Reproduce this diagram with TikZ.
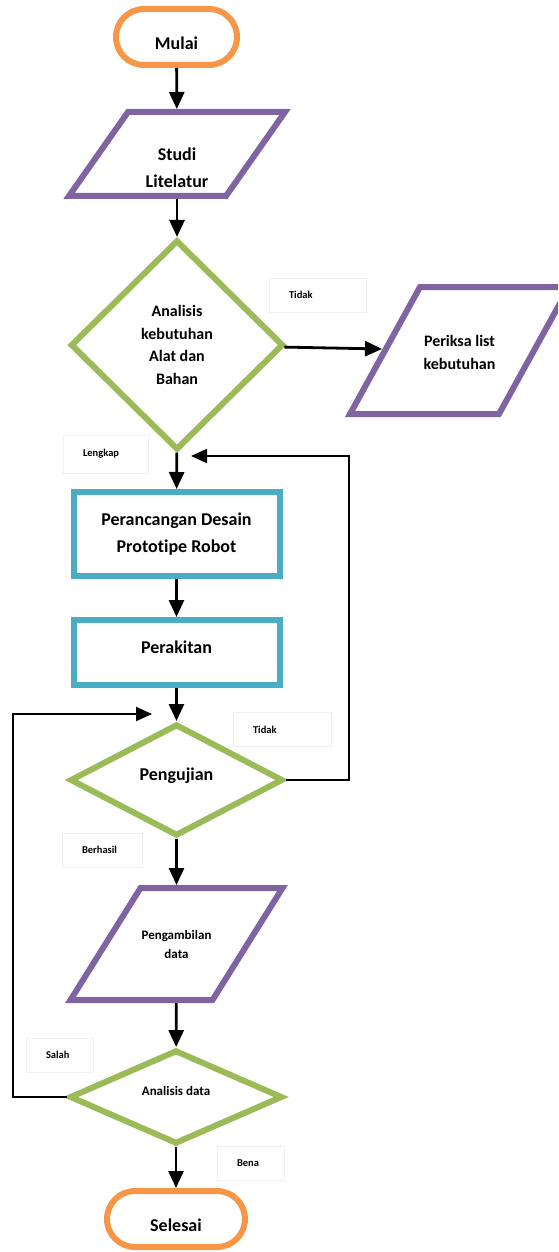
\documentclass[tikz,border=0pt]{standalone}
\usepackage{fontspec}
\setmainfont{Carlito}[Ligatures=NoCommon]
\usetikzlibrary{shapes.geometric,arrows.meta}
\definecolor{oranye}{HTML}{F79646}
\definecolor{ungu}{HTML}{8064A2}
\definecolor{hijau}{HTML}{9BBB59}
\definecolor{biru}{HTML}{4BACC6}
\newcommand{\geser}[2]{\raisebox{#1}[\height][\depth]{#2}}
% jajar genjang di sekitar simpul #1: setengah sisi #2, setengah tinggi #3, setengah geser #4
\newcommand{\jajargenjang}[4]{%
  \draw[bingkai] ([shift={(-#2-#4,#3)}]#1.center) -- ([shift={(#2-#4,#3)}]#1.center)
    -- ([shift={(#2+#4,-#3)}]#1.center) -- ([shift={(-#2+#4,-#3)}]#1.center) -- cycle;}
\tikzset{
  dasar/.style={line width=6pt, fill=white, inner sep=2pt, align=center},
  terminal/.style={dasar, draw=oranye, rectangle, rounded corners=28pt,
    minimum height=56pt, font=\fontsize{18}{27}\selectfont\bfseries},
  proses/.style={dasar, draw=biru, rectangle, minimum width=206pt,
    font=\fontsize{18}{27}\selectfont\bfseries},
  keputusan/.style={dasar, draw=hijau, diamond},
  masukan/.style={line width=6pt, rectangle, inner sep=2pt, align=center},
  bingkai/.style={draw=ungu, line width=6pt},
  panah/.style={line width=2.8pt, -{Triangle[length=17pt,width=15pt]}},
  balik/.style={line width=2pt, -{Triangle[length=16pt,width=14pt]}},
  ket/.style={draw=black!6, line width=0.8pt, minimum height=34pt, inner xsep=20pt,
    inner ysep=0pt, text width=#1, align=left, font=\fontsize{10.5}{12}\selectfont\bfseries},
}
\begin{document}
\begin{tikzpicture}[x=1pt,y=-1pt]
  \useasboundingbox (0,0) rectangle (558,1252);
  \clip (0,0) rectangle (558,1252);
  % keterangan cabang
  \node[ket=57pt] (tidakA) at (317.5,295) {Tidak};
  \node[ket=45pt, minimum height=38pt] (lengkap) at (105.5,454) {Lengkap};
  \node[ket=58pt] (tidakB) at (282,729.5) {Tidak};
  \node[ket=40pt] (berhasil) at (102,850) {Berhasil};
  \node[ket=27pt] (salah) at (59.5,1055) {Salah};
  \node[ket=27pt] (bena) at (250.5,1163.5) {Bena};
  % simpul utama
  \node[terminal, minimum width=121pt] (mulai) at (176.5,37) {\geser{-6pt}{Mulai}};
  \node[masukan, minimum width=157pt, minimum height=84pt,
    font=\fontsize{18}{27}\selectfont\bfseries]
    (studi) at (177,154) {\geser{-14pt}{Studi}\\\geser{-14pt}{Litelatur}};
  \jajargenjang{studi}{78.5}{42}{29.5}
  \node[keputusan, minimum width=213pt, minimum height=210pt,
    font=\fontsize{16}{22.7}\selectfont\bfseries]
    (analisis) at (177,345) {Analisis\\kebutuhan\\Alat dan\\Bahan};
  \node[masukan, minimum width=149pt, minimum height=127pt,
    font=\fontsize{16}{23}\selectfont\bfseries]
    (periksa) at (459.5,350.5) {\geser{-2pt}{Periksa list}\\\geser{-2pt}{kebutuhan}};
  \jajargenjang{periksa}{74.5}{63.5}{35}
  \node[proses, minimum height=84pt] (rancang) at (176.5,534) {Perancangan Desain\\Prototipe Robot};
  \node[proses, minimum height=65pt] (rakit) at (176.5,652.5) {\geser{5.5pt}{Perakitan}};
  \node[keputusan, minimum width=213pt, minimum height=112pt,
    font=\fontsize{18}{27}\selectfont\bfseries]
    (uji) at (176.5,780) {\geser{4pt}{Pengujian}};
  \node[masukan, minimum width=142pt, minimum height=112pt,
    font=\fontsize{13}{19}\selectfont\bfseries]
    (ambil) at (176.5,944) {Pengambilan\\data};
  \jajargenjang{ambil}{71}{56}{35}
  \node[keputusan, minimum width=213pt, minimum height=94pt,
    font=\fontsize{13}{19}\selectfont\bfseries]
    (analisisData) at (176,1097) {\geser{6pt}{Analisis data}};
  \node[terminal, minimum width=138pt] (selesai) at (176,1219) {\geser{-6pt}{Selesai}};
  % alur
  \draw[panah] (mulai) -- (studi);
  \draw[panah] (studi) -- (analisis);
  \draw[panah] (analisis) -- (periksa);
  \draw[panah] (analisis) -- (rancang);
  \draw[panah] (rancang) -- (rakit);
  \draw[panah] (rakit) -- (uji);
  \draw[panah] (uji) -- (ambil);
  \draw[panah] (ambil) -- (analisisData);
  \draw[panah] (analisisData) -- (selesai);
  % alur kembali
  \coordinate (ujiSudut) at (349,456);
  \coordinate (ujiUjung) at (191,456);
  \draw[balik] (uji.east) -| (ujiSudut) -- (ujiUjung);
  \coordinate (salahSudut) at (12.5,714);
  \coordinate (salahUjung) at (152,714);
  \draw[balik] (analisisData.west) -| (salahSudut) -- (salahUjung);
\end{tikzpicture}
\end{document}
